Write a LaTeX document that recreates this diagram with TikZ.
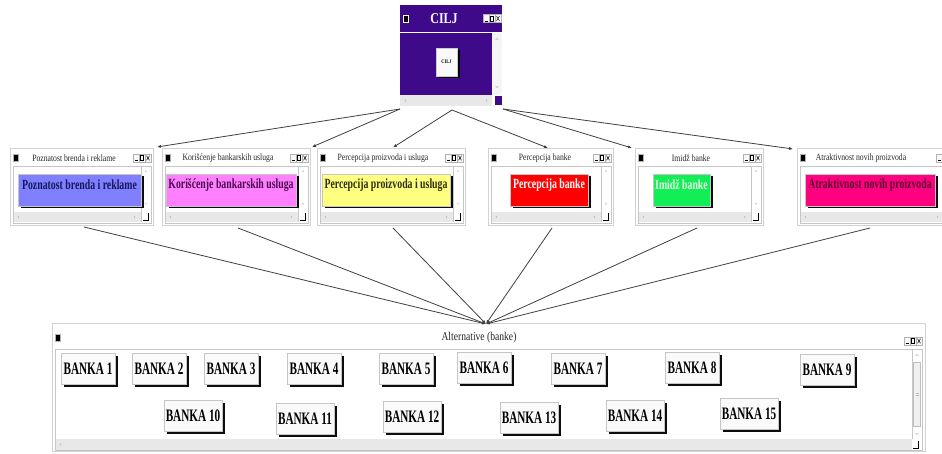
\documentclass[tikz,border=0pt]{standalone}
\usepackage{fontspec}
\setmainfont{Liberation Serif}
\newfontfamily\ttlfont[FakeStretch=0.8]{Liberation Serif}
\newfontfamily\btnfont[FakeStretch=0.7]{Liberation Serif}
\newfontfamily\bankfont[FakeStretch=0.64]{Liberation Serif}
\usetikzlibrary{arrows.meta,calc,fit,shadows}
\definecolor{ciljpurple}{HTML}{3E0A8A}
\definecolor{stripgray}{HTML}{E8E8E8}
\definecolor{bblue}{HTML}{8080FF}
\definecolor{bblueT}{HTML}{16165C}
\definecolor{bpink}{HTML}{FF80FF}
\definecolor{bpinkT}{HTML}{4E0A50}
\definecolor{byellow}{HTML}{FFFF80}
\definecolor{byellowT}{HTML}{2E2E0E}
\definecolor{bred}{HTML}{FF0000}
\definecolor{bgreen}{HTML}{12EE55}
\definecolor{bgreenT}{HTML}{E8FFE8}
\definecolor{brose}{HTML}{FF0080}
\definecolor{broseT}{HTML}{5A0030}
\tikzset{
  winbox/.style={draw=gray!35, fill=white, inner sep=0pt, line width=0.5pt},
  panel/.style={draw=gray!45, line width=0.4pt},
  stripfill/.style={fill=stripgray},
  wintitle/.style={font=\ttlfont\fontsize{9.6}{10}\selectfont, text=black!85, inner sep=0pt},
  winicon/.style={draw=gray!60, fill=black, minimum width=5pt, minimum height=7pt, inner sep=0pt, line width=0.7pt},
  btnshadow/.style={drop shadow={shadow xshift=2.5pt, shadow yshift=-2.5pt, fill=black, opacity=0.95}},
  critbtn/.style={draw=gray!45, line width=0.6pt, inner sep=0pt, btnshadow,
     font=\btnfont\bfseries\fontsize{14}{15}\selectfont},
  bankbtn/.style={draw=gray!45, fill=gray!4, line width=0.6pt, inner sep=0pt,
     minimum width=54pt, minimum height=31pt, btnshadow,
     font=\bankfont\bfseries\fontsize{17.5}{18}\selectfont},
  bankwide/.style={bankbtn, minimum width=58pt},
  conn/.style={draw=black!75, line width=0.8pt, -{Latex[length=4pt,width=3.2pt]}},
  smallmark/.style={draw=gray!55, line width=0.4pt},
}
% three little title-bar buttons, #1 right edge x, #2 centre y
\newcommand\wbtns[2]{%
  \draw[gray!60, fill=gray!6, line width=0.4pt] (#1-18,#2-4) rectangle (#1-12,#2+4)
     (#1-12,#2-4) rectangle (#1-6,#2+4) (#1-6,#2-4) rectangle (#1,#2+4);
  \draw[black, line width=0.8pt] (#1-16.5,#2+2.5) -- (#1-13.5,#2+2.5);
  \draw[black, line width=0.5pt] (#1-10.5,#2-2.3) rectangle (#1-7.5,#2+2.3);
  \draw[black, line width=0.5pt] (#1-4.5,#2-2.3) -- (#1-1.5,#2+2.3) (#1-4.5,#2+2.3) -- (#1-1.5,#2-2.3);
}
% criteria window
% #1 name #2 x1 #3 x2 #4 title x #5 title #6 bx1 #7 bx2 #8 button style #9 button text
\newcommand\critwin[9]{%
  \node[winbox, fit={(#2,148) (#3,225)}] (#1) {};
  \draw[panel] (#2+3,166) rectangle (#3-2,223);
  \fill[stripfill] (#2+4,212) rectangle (#3-12,222.5);
  \draw[panel] (#3-12,166) -- (#3-12,222);
  \draw[smallmark] (#3-8,172) -- (#3-7,170.5) -- (#3-6,172);
  \draw[smallmark] (#3-8,203) -- (#3-7,204.5) -- (#3-6,203);
  \draw[smallmark] (#2+9,216) -- (#2+8,217) -- (#2+9,218);
  \draw[smallmark] (#3-19,216) -- (#3-18,217) -- (#3-19,218);
  \draw[black, line width=0.8pt] (#3-5,213) -- (#3-5,220.5) -- (#3-10,220.5);
  \node[wintitle] (#1-title) at (#4,158) {#5};
  \node[winicon] (#1-icon) at (#2+5.5,158) {};
  \wbtns{#3-2}{158}
  \node[critbtn,#8, fit={(#6,174) (#7,206)}] (#1-btn) {#9};
}
\begin{document}
\begin{tikzpicture}[x=1pt,y=-1pt]
\clip (0,0) rectangle (942,454);
\fill[white] (0,0) rectangle (942,454);

% ---------- CILJ window ----------
\node[inner sep=0pt, fill=ciljpurple, fit={(400,5) (502,32)}] (cilj-bar) {};
\node[inner sep=0pt, fill=ciljpurple, fit={(400,33.5) (492,95)}] (cilj) {};
\fill[gray!8] (492,33.5) rectangle (502,95);
\draw[smallmark] (495.5,40) -- (497,38.5) -- (498.5,40);
\draw[smallmark] (495.5,86) -- (497,87.5) -- (498.5,86);
\fill[stripgray] (400,95) rectangle (492,106);
\draw[smallmark] (406,99.5) -- (405,100.5) -- (406,101.5);
\draw[smallmark] (486,99.5) -- (487,100.5) -- (486,101.5);
\fill[ciljpurple] (495,96) rectangle (501.5,105.5);
\node[font=\ttlfont\bfseries\fontsize{15}{16}\selectfont, text=white, inner sep=0pt] (cilj-title) at (444,18.5) {CILJ};
\node[winicon, draw=white] (cilj-icon) at (405.5,18.5) {};
\wbtns{501}{18.5}
\node[draw=gray!40, fill=gray!5, line width=0.6pt, inner sep=0pt, btnshadow,
      minimum width=21pt, minimum height=28pt,
      font=\ttlfont\bfseries\fontsize{5.5}{6}\selectfont] (cilj-btn) at (446.5,62) {CILJ};

% ---------- criteria windows ----------
\critwin{w1}{10}{153}{74}{Poznatost brenda i reklame}{18}{141}{fill=bblue,text=bblueT}{Poznatost brenda i reklame}
\critwin{w2}{162}{310}{228}{Korišćenje bankarskih usluga}{166}{296}{fill=bpink,text=bpinkT}{Korišćenje bankarskih usluga}
\critwin{w3}{317}{465}{383}{Percepcija proizvoda i usluga}{322}{450}{fill=byellow,text=byellowT}{Percepcija proizvoda i usluga}
\critwin{w4}{488}{613}{545}{Percepcija banke}{510}{588}{fill=bred,text=white}{Percepcija banke}
\critwin{w5}{635}{763}{691}{Imidž banke}{653}{710}{fill=bgreen,text=bgreenT}{Imidž banke}
\critwin{w6}{797}{956}{861}{Atraktivnost novih proizvoda}{805}{935}{fill=brose,text=broseT}{Atraktivnost novih proizvoda}

% ---------- alternatives window ----------
\node[winbox, fit={(52,323) (925,451)}] (alt) {};
\draw[panel] (55,349) rectangle (922,450);
\fill[stripgray] (56,439) rectangle (912,450);
\draw[panel] (912,349) -- (912,439);
\draw[gray!50, fill=gray!12, line width=0.4pt] (913.5,362) rectangle (920.5,426);
\draw[smallmark] (915.5,356) -- (917,354.5) -- (918.5,356);
\draw[smallmark] (915.5,433) -- (917,434.5) -- (918.5,433);
\draw[smallmark] (915.5,393) -- (918.5,393) (915.5,395) -- (918.5,395);
\draw[smallmark] (61,443.5) -- (60,444.5) -- (61,445.5);
\draw[black, line width=0.8pt] (918,441) -- (918,448.5) -- (913,448.5);
\node[wintitle, font=\ttlfont\fontsize{12}{13}\selectfont] (alt-title) at (479,338) {Alternative (banke)};
\node[winicon] (alt-icon) at (57.5,337.5) {};
\wbtns{922}{341}

\node[bankbtn] (b1) at (88,369) {BANKA 1};
\node[bankbtn] (b2) at (159,369) {BANKA 2};
\node[bankbtn] (b3) at (231,369) {BANKA 3};
\node[bankbtn] (b4) at (314,369) {BANKA 4};
\node[bankbtn] (b5) at (406,369) {BANKA 5};
\node[bankbtn] (b6) at (484,368) {BANKA 6};
\node[bankbtn] (b7) at (578,369) {BANKA 7};
\node[bankbtn] (b8) at (692,368) {BANKA 8};
\node[bankbtn] (b9) at (827,370) {BANKA 9};
\node[bankwide] (b10) at (193,416) {BANKA 10};
\node[bankwide] (b11) at (305,419) {BANKA 11};
\node[bankwide] (b12) at (412,417) {BANKA 12};
\node[bankwide] (b13) at (529,418) {BANKA 13};
\node[bankwide] (b14) at (635,416) {BANKA 14};
\node[bankwide] (b15) at (749,414) {BANKA 15};

% ---------- connectors ----------
\coordinate (c-l) at (400,109);
\coordinate (c-m) at (452,110);
\coordinate (c-r) at (503,109);
\coordinate (t1) at (157,147);
\coordinate (t2) at (312,147);
\coordinate (t3) at (393,147.5);
\coordinate (t4) at (548,148);
\coordinate (t5) at (632,148);
\coordinate (t6) at (793,149);
\draw[conn] (c-l) -- (t1);
\draw[conn] (c-l) -- (t2);
\draw[conn] (c-m) -- (t3);
\draw[conn] (c-m) -- (t4);
\draw[conn] (c-r) -- (t5);
\draw[conn] (c-r) -- (t6);

\coordinate (s1) at (84,227);
\coordinate (s2) at (238,228);
\coordinate (s3) at (393,228);
\coordinate (s4) at (552,228);
\coordinate (s5) at (697,228);
\coordinate (s6) at (870,228);
\coordinate (alt-top) at (486,324);
\foreach \s in {s1,s2,s3,s4,s5,s6} \draw[conn] (\s) -- (alt-top);
\end{tikzpicture}
\end{document}
